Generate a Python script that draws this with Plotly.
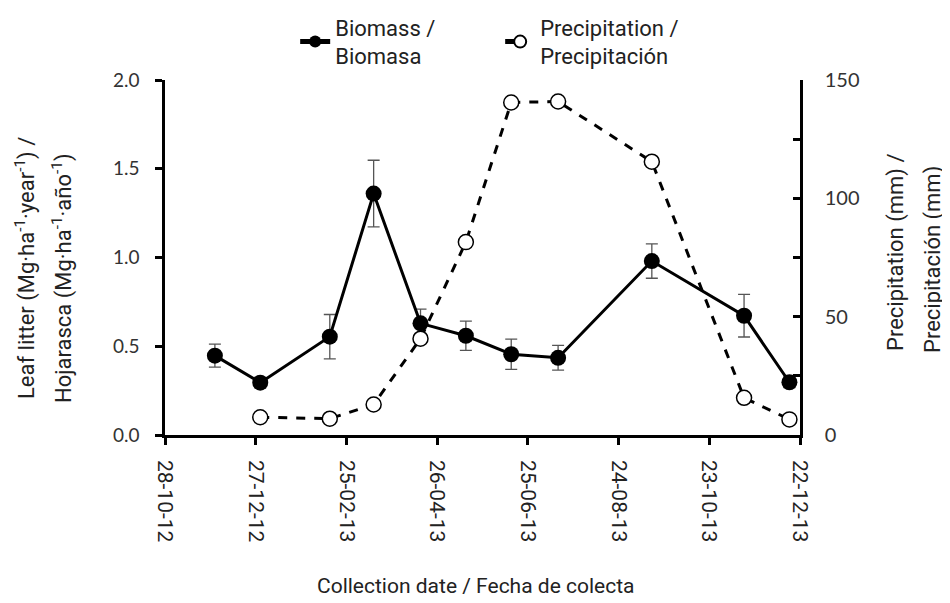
import plotly.graph_objects as go

# ---- data ----
bio_dates = ["2012-11-30", "2012-12-30", "2013-02-14", "2013-03-15", "2013-04-15",
             "2013-05-15", "2013-06-14", "2013-07-15", "2013-09-15", "2013-11-15",
             "2013-12-15"]
bio_values = [0.447, 0.295, 0.554, 1.36, 0.629, 0.559, 0.455, 0.435, 0.98, 0.672, 0.297]
bio_err = [0.065, 0.03, 0.125, 0.188, 0.08, 0.082, 0.085, 0.07, 0.097, 0.12, 0.03]

pre_dates = ["2012-12-30", "2013-02-14", "2013-03-15", "2013-04-15", "2013-05-15",
             "2013-06-14", "2013-07-15", "2013-09-15", "2013-11-15", "2013-12-15"]
pre_values = [7.5, 6.9, 12.9, 40.7, 81.5, 140.5, 140.9, 115.5, 15.7, 6.6]

left_ticks = [0, 0.5, 1.0, 1.5, 2.0]
left_labels = ["0.0", "0.5", "1.0", "1.5", "2.0"]
right_ticks = [0, 25, 50, 75, 100, 125, 150]
right_labels = ["0", "", "50", "", "100", "", "150"]

left_title = ["Leaf litter (Mg·ha<sup>-1</sup>·year<sup>-1</sup>) /",
              "Hojarasca (Mg·ha<sup>-1</sup>·año<sup>-1</sup>)"]
right_title = ["Precipitation (mm) /", "Precipitación (mm)"]
x_title = "Collection date / Fecha de colecta"

NARROW = "Roboto, Liberation Sans, sans-serif"
NUM = "Lato, sans-serif"
TXT = "#222222"

# plot area in reference pixels
PL, PR, PT, PB = 165, 800, 80, 435
PW, PH = PR - PL, PB - PT


def px(x):
    return (x - PL) / PW


def py(y):
    return (PB - y) / PH


fig = go.Figure()

fig.add_trace(go.Scatter(
    x=bio_dates, y=bio_values, name="Biomass /<br>Biomasa",
    mode="lines+markers",
    line=dict(color="black", width=3),
    marker=dict(color="black", size=16, symbol="circle"),
    error_y=dict(type="data", array=bio_err, visible=True, color="#555555",
                 thickness=1.3, width=6),
    yaxis="y",
))

fig.add_trace(go.Scatter(
    x=pre_dates, y=pre_values, name="Precipitation /<br>Precipitación",
    mode="lines+markers",
    line=dict(color="black", width=3, dash="dash"),
    marker=dict(color="white", size=15, symbol="circle",
                line=dict(color="black", width=1.5)),
    yaxis="y2",
))

annos = [
    dict(text=left_title[0], x=px(25), y=py(268), textangle=-90),
    dict(text=left_title[1], x=px(62), y=py(278), textangle=-90),
    dict(text=right_title[0], x=px(896), y=py(252), textangle=-90),
    dict(text=right_title[1], x=px(933), y=py(260), textangle=-90),
    dict(text=x_title, x=px(476), y=py(586), textangle=0),
]
for a in annos:
    a.update(xref="paper", yref="paper", xanchor="center", yanchor="middle",
             showarrow=False, font=dict(family=NARROW, size=22, color=TXT))
annos[-1]["font"] = dict(family=NARROW, size=21, color=TXT)

fig.update_layout(
    width=950, height=603,
    margin=dict(l=157, r=158, t=72, b=176, autoexpand=False),
    plot_bgcolor="white", paper_bgcolor="white",
    font=dict(family=NARROW, size=22, color=TXT),
    showlegend=True,
    legend=dict(orientation="h", x=0.205, xanchor="left", y=py(42), yanchor="middle",
                font=dict(family=NARROW, size=22, color=TXT),
                entrywidth=160, entrywidthmode="pixels", itemsizing="constant",
                bgcolor="rgba(0,0,0,0)"),
    annotations=annos,
    xaxis=dict(
        type="date", automargin=False,
        range=["2012-10-28", "2013-12-22"],
        tick0="2012-10-28", dtick=60 * 86400000,
        tickformat="%d-%m-%y", tickangle=90,
        showline=True, linecolor="black", linewidth=2.5,
        ticks="outside", ticklen=7, tickwidth=2.5, tickcolor="black",
        ticklabelstandoff=11,
        showgrid=False, zeroline=False,
        tickfont=dict(family=NARROW, size=21, color=TXT),
    ),
    yaxis=dict(
        range=[0, 2], tickvals=left_ticks, ticktext=left_labels, automargin=False,
        showline=True, linecolor="black", linewidth=2.5,
        ticks="outside", ticklen=7, tickwidth=2.5, tickcolor="black",
        ticklabelstandoff=12,
        showgrid=False, zeroline=False,
        tickfont=dict(family=NUM, size=19, color="#333333"),
    ),
    yaxis2=dict(
        range=[0, 150], tickvals=right_ticks, ticktext=right_labels,
        overlaying="y", side="right", automargin=False,
        showline=True, linecolor="black", linewidth=2.5,
        ticks="inside", ticklen=7, tickwidth=2.5, tickcolor="black",
        ticklabelstandoff=18,
        showgrid=False, zeroline=False,
        tickfont=dict(family=NUM, size=20, color="#333333"),
    ),
)

fig.write_html("out.html")
